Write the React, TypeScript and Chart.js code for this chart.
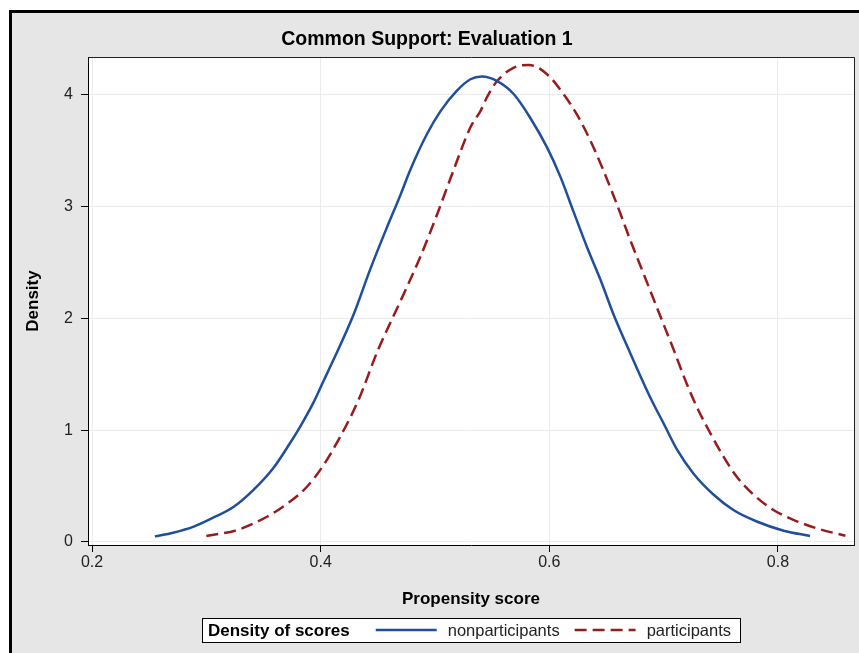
import React, { useEffect, useRef } from 'react';
import { Chart, registerables } from 'chart.js';

Chart.register(...registerables);

const chartTitle = 'Common Support: Evaluation 1';
const xAxisTitle = 'Propensity score';
const yAxisTitle = 'Density';
const legendTitle = 'Density of scores';
const seriesNames = ['nonparticipants', 'participants'];
const seriesColors = ['#1f4e9b', '#981b1e'];

const xTicks = [0.2, 0.4, 0.6, 0.8];
const yTicks = [0, 1, 2, 3, 4];
const xRange = [0.1965, 0.8665];
const yRange = [-0.027, 4.339];

// nonparticipants density curve
const nonX = [0.255, 0.271, 0.289, 0.306, 0.324, 0.341, 0.359, 0.373, 0.382, 0.394, 0.4025, 0.411, 0.429, 0.443, 0.458, 0.47, 0.478, 0.493, 0.505, 0.519, 0.531, 0.541, 0.554, 0.569, 0.583, 0.598, 0.61, 0.621, 0.633, 0.645, 0.656, 0.671, 0.688, 0.7, 0.712, 0.726, 0.744, 0.761, 0.782, 0.805, 0.828];
const nonY = [0.05, 0.083, 0.137, 0.217, 0.315, 0.464, 0.667, 0.881, 1.03, 1.253, 1.44, 1.625, 2.04, 2.43, 2.815, 3.11, 3.32, 3.65, 3.857, 4.036, 4.14, 4.164, 4.125, 4.006, 3.8, 3.53, 3.26, 2.96, 2.637, 2.34, 2.04, 1.685, 1.3, 1.06, 0.821, 0.613, 0.42, 0.286, 0.181, 0.101, 0.054];

// participants density curve
const partX = [0.3, 0.327, 0.353, 0.373, 0.388, 0.4025, 0.417, 0.433, 0.45, 0.47, 0.487, 0.502, 0.516, 0.531, 0.54, 0.5455, 0.554, 0.569, 0.582, 0.598, 0.6125, 0.624, 0.636, 0.6475, 0.659, 0.671, 0.6825, 0.694, 0.709, 0.719, 0.729, 0.741, 0.7525, 0.764, 0.779, 0.796, 0.814, 0.834, 0.859];
const partY = [0.054, 0.107, 0.226, 0.36, 0.494, 0.6875, 0.94, 1.268, 1.714, 2.16, 2.547, 2.935, 3.32, 3.71, 3.86, 3.98, 4.12, 4.244, 4.268, 4.185, 4.006, 3.827, 3.589, 3.32, 3.024, 2.696, 2.399, 2.1, 1.714, 1.446, 1.208, 0.97, 0.762, 0.583, 0.42, 0.286, 0.196, 0.122, 0.056];

const FONT = '"Liberation Sans", Arial, Helvetica, sans-serif';
const dashPattern = [12, 6];

const framePlugin = {
  id: 'sasFrame',
  beforeDraw(chart: any) {
    const { ctx, width, height, chartArea } = chart;
    ctx.save();
    ctx.fillStyle = '#ffffff';
    ctx.fillRect(0, 0, width, height);
    ctx.fillStyle = '#e6e6e6';
    ctx.fillRect(9, 10, width, height);
    ctx.fillStyle = '#000000';
    ctx.fillRect(9, 10, 3, height);
    ctx.fillRect(9, 10, width, 3);
    ctx.fillStyle = '#ffffff';
    ctx.fillRect(chartArea.left, chartArea.top, chartArea.right - chartArea.left, chartArea.bottom - chartArea.top);
    ctx.restore();
  },
  afterDraw(chart: any) {
    const { ctx, chartArea } = chart;
    ctx.save();
    // top and right frame of the plot area
    ctx.strokeStyle = '#222222';
    ctx.lineWidth = 1;
    ctx.beginPath();
    ctx.moveTo(Math.round(chartArea.left) + 0.5, Math.round(chartArea.top) + 0.5);
    ctx.lineTo(Math.round(chartArea.right) + 0.5, Math.round(chartArea.top) + 0.5);
    ctx.lineTo(Math.round(chartArea.right) + 0.5, Math.round(chartArea.bottom) + 0.5);
    ctx.stroke();

    // legend
    const datasets = chart.data.datasets;
    const cx = (chartArea.left + chartArea.right) / 2;
    const cy = chartArea.bottom + 85;
    ctx.font = `bold 17px ${FONT}`;
    const titleW = ctx.measureText(legendTitle).width;
    ctx.font = `16.5px ${FONT}`;
    const labelW = datasets.map((d: any) => ctx.measureText(d.label).width);
    const padL = 6, gapT = 26, lineW = 61, gapL = 11, gapI = 15, padR = 9;
    let total = padL + titleW + gapT + padR;
    labelW.forEach((w: number, i: number) => {
      total += lineW + gapL + w + (i < labelW.length - 1 ? gapI : 0);
    });
    const x0 = Math.round(cx - total / 2);
    const boxH = 24;
    const y0 = Math.round(cy - boxH / 2);
    ctx.fillStyle = '#ffffff';
    ctx.fillRect(x0, y0, Math.round(total), boxH);
    ctx.strokeStyle = '#000000';
    ctx.lineWidth = 1;
    ctx.strokeRect(x0 + 0.5, y0 + 0.5, Math.round(total), boxH);

    ctx.textBaseline = 'middle';
    ctx.textAlign = 'left';
    ctx.fillStyle = '#000000';
    ctx.font = `bold 17px ${FONT}`;
    let x = x0 + padL;
    ctx.fillText(legendTitle, x, cy + 1);
    x += titleW + gapT;
    datasets.forEach((d: any, i: number) => {
      ctx.save();
      ctx.strokeStyle = d.borderColor;
      ctx.lineWidth = 2.5;
      ctx.setLineDash(d.borderDash || []);
      ctx.beginPath();
      ctx.moveTo(x, cy);
      ctx.lineTo(x + lineW, cy);
      ctx.stroke();
      ctx.restore();
      x += lineW + gapL;
      ctx.font = `16.5px ${FONT}`;
      ctx.fillStyle = '#222222';
      ctx.fillText(d.label, x, cy + 1);
      x += labelW[i] + gapI;
    });
    ctx.restore();
  },
};

export default function App() {
  const canvasRef = useRef<HTMLCanvasElement | null>(null);

  useEffect(() => {
    const canvas = canvasRef.current;
    if (!canvas) return;

    const chart = new Chart(canvas, {
      type: 'line',
      data: {
        datasets: [
          {
            label: seriesNames[0],
            data: nonX.map((x, i) => ({ x, y: nonY[i] })),
            borderColor: seriesColors[0],
            backgroundColor: seriesColors[0],
            borderWidth: 2.5,
            pointRadius: 0,
            fill: false,
            cubicInterpolationMode: 'monotone',
          },
          {
            label: seriesNames[1],
            data: partX.map((x, i) => ({ x, y: partY[i] })),
            borderColor: seriesColors[1],
            backgroundColor: seriesColors[1],
            borderWidth: 2.5,
            borderDash: dashPattern,
            pointRadius: 0,
            fill: false,
            cubicInterpolationMode: 'monotone',
          },
        ],
      },
      options: {
        responsive: false,
        animation: false,
        devicePixelRatio: 1,
        events: [],
        layout: { padding: { left: 0, right: 5, top: 0, bottom: 0 } },
        plugins: {
          legend: { display: false },
          tooltip: { enabled: false },
          title: {
            display: true,
            text: chartTitle,
            color: '#000000',
            font: { family: FONT, size: 19.5, weight: 'bold', lineHeight: 1.2 },
            padding: { top: 28.3, bottom: 5.3 },
          },
        },
        scales: {
          x: {
            type: 'linear',
            min: xRange[0],
            max: xRange[1],
            afterBuildTicks: (axis: any) => {
              axis.ticks = xTicks.map((v) => ({ value: v }));
            },
            afterFit: (scale: any) => {
              scale.height = 108;
              scale.paddingLeft = 0;
              scale.paddingRight = 0;
            },
            ticks: {
              color: '#222222',
              font: { family: FONT, size: 16, lineHeight: 1.2 },
              padding: 1,
              maxRotation: 0,
              autoSkip: false,
              callback: (v: any) => Number(v).toFixed(1),
            },
            grid: { color: '#ebebeb', lineWidth: 1, tickColor: '#000000', tickLength: 7 },
            border: { color: '#000000', width: 1 },
            title: {
              display: true,
              text: xAxisTitle,
              color: '#000000',
              font: { family: FONT, size: 17, weight: 'bold', lineHeight: 1.2 },
              padding: { top: 0, bottom: 43.8 },
            },
          },
          y: {
            type: 'linear',
            min: yRange[0],
            max: yRange[1],
            afterBuildTicks: (axis: any) => {
              axis.ticks = yTicks.map((v) => ({ value: v }));
            },
            afterFit: (scale: any) => {
              scale.width = 88;
              scale.paddingTop = 0;
              scale.paddingBottom = 0;
            },
            ticks: {
              color: '#222222',
              font: { family: FONT, size: 16, lineHeight: 1.2 },
              padding: 8,
              autoSkip: false,
              callback: (v: any) => String(v),
            },
            grid: { color: '#ebebeb', lineWidth: 1, tickColor: '#000000', tickLength: 7 },
            border: { color: '#000000', width: 1 },
            title: {
              display: true,
              text: yAxisTitle,
              color: '#000000',
              font: { family: FONT, size: 17, weight: 'bold', lineHeight: 1.2 },
              padding: { top: 22.8, bottom: 0 },
            },
          },
        },
      },
      plugins: [framePlugin],
    } as any);

    return () => chart.destroy();
  }, []);

  return (
    <div style={{ position: 'absolute', left: 0, top: 0, width: 859, height: 653 }}>
      <canvas ref={canvasRef} width={859} height={653} style={{ width: 859, height: 653, display: 'block' }} />
    </div>
  );
}
